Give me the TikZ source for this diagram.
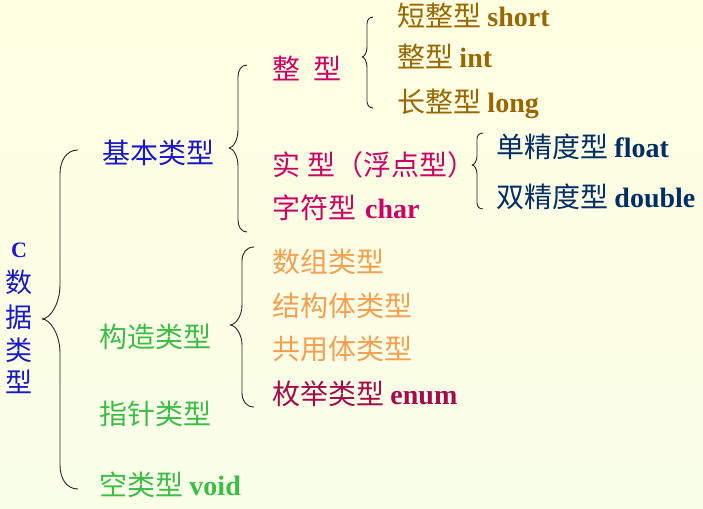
\documentclass[tikz,border=0pt]{standalone}
\usepackage{fontspec}
\setmainfont{Liberation Serif}
\newfontfamily\cjk{Noto Sans CJK SC}
\newfontfamily\tnr{Liberation Serif}
\definecolor{cblue}{RGB}{25,25,200}
\definecolor{crim}{RGB}{204,0,102}
\definecolor{brn}{RGB}{153,102,0}
\definecolor{navy}{RGB}{0,45,100}
\definecolor{grn}{RGB}{60,190,70}
\definecolor{orng}{RGB}{245,160,80}
\definecolor{enumc}{RGB}{165,10,75}
\definecolor{bgtop}{RGB}{255,255,226}
\definecolor{bgmid}{RGB}{216,248,250}
\definecolor{bgbot}{RGB}{250,255,232}
% #1 R, #2 V, #3 L, #4 T, #5 M, #6 B, #7 end bend, #8 middle bend
\newcommand\mybrace[8]{%
  \draw[bracestyle] (#1,#4) .. controls ({#2+0.35*(#1-#2)},#4) and (#2,{#4+0.45*#7}) .. (#2,{#4+#7})
    -- (#2,{#5-#8}) .. controls (#2,{#5-0.45*#8}) and ({#3+0.45*(#2-#3)},#5) .. (#3,#5)
    .. controls ({#3+0.45*(#2-#3)},#5) and (#2,{#5+0.45*#8}) .. (#2,{#5+#8})
    -- (#2,{#6-#7}) .. controls (#2,{#6-0.45*#7}) and ({#2+0.35*(#1-#2)},#6) .. (#1,#6);}
\tikzset{
  bracestyle/.style={draw=black!85, line width=0.9pt, line join=round},
  lbl/.style={anchor=base west, inner sep=0pt, font=\cjk\fontsize{28}{28}\selectfont},
  vch/.style={anchor=base, inner sep=0pt, text=cblue, font=\cjk\fontsize{27}{27}\selectfont},
}
\newcommand\lat[1]{{\tnr\bfseries #1}}
\begin{document}
\begin{tikzpicture}[x=1pt,y=-1pt]
\useasboundingbox (0,0) rectangle (703,508);
\shade[top color=bgtop, middle color=bgmid, bottom color=bgbot] (0,0) rectangle (703,508);
% root column
\node[vch, font=\tnr\bfseries\fontsize{22}{22}\selectfont] (rc) at (19,257) {C};
\node[vch] (r1) at (19,292) {数};
\node[vch] (r2) at (19,327) {据};
\node[vch] (r3) at (19,360) {类};
\node[vch] (r4) at (19,392) {型};
% level 1
\node[lbl, text=cblue] (basic) at (102,163) {基本类型};
\node[lbl, text=grn] (cons) at (99,347) {构造类型};
\node[lbl, text=grn] (ptr) at (99,424) {指针类型};
\node[lbl, text=grn] (void) at (99,495) {空类型 \lat{void}};
% level 2 under basic
\node[lbl, text=crim] (int) at (272,80) {整\hspace{13pt}型};
\node[lbl, text=crim] (real) at (272,175) {实\hspace{7pt}型（浮点型）};
\node[lbl, text=crim] (chr) at (272,218) {字符型\hspace{9pt}\lat{char}};
% level 3 under int
\node[lbl, text=brn] (short) at (397,27) {短整型 \lat{short}};
\node[lbl, text=brn] (iint) at (397,68) {整型 \lat{int}};
\node[lbl, text=brn] (long) at (397,113) {长整型 \lat{long}};
% level 3 under real
\node[lbl, text=navy] (flt) at (496,157) {单精度型 \lat{float}};
\node[lbl, text=navy] (dbl) at (496,207) {双精度型 \lat{double}};
% level 2 under construct
\node[lbl, text=orng] (arr) at (272,272) {数组类型};
\node[lbl, text=orng] (struct) at (272,316) {结构体类型};
\node[lbl, text=orng] (union) at (272,359) {共用体类型};
\node[lbl, text=enumc] (enum) at (272,404) {枚举类型 \lat{enum}};
% braces
\mybrace{78}{60}{42}{150}{319}{489}{24}{34}
\mybrace{247}{238}{229}{65}{148}{232}{12}{18}
\mybrace{373}{367}{362}{17}{57}{108}{7}{10}
\mybrace{483}{477}{472}{133}{165}{209}{6}{9}
\mybrace{254}{242}{230}{247}{325}{407}{14}{20}
\end{tikzpicture}
\end{document}
